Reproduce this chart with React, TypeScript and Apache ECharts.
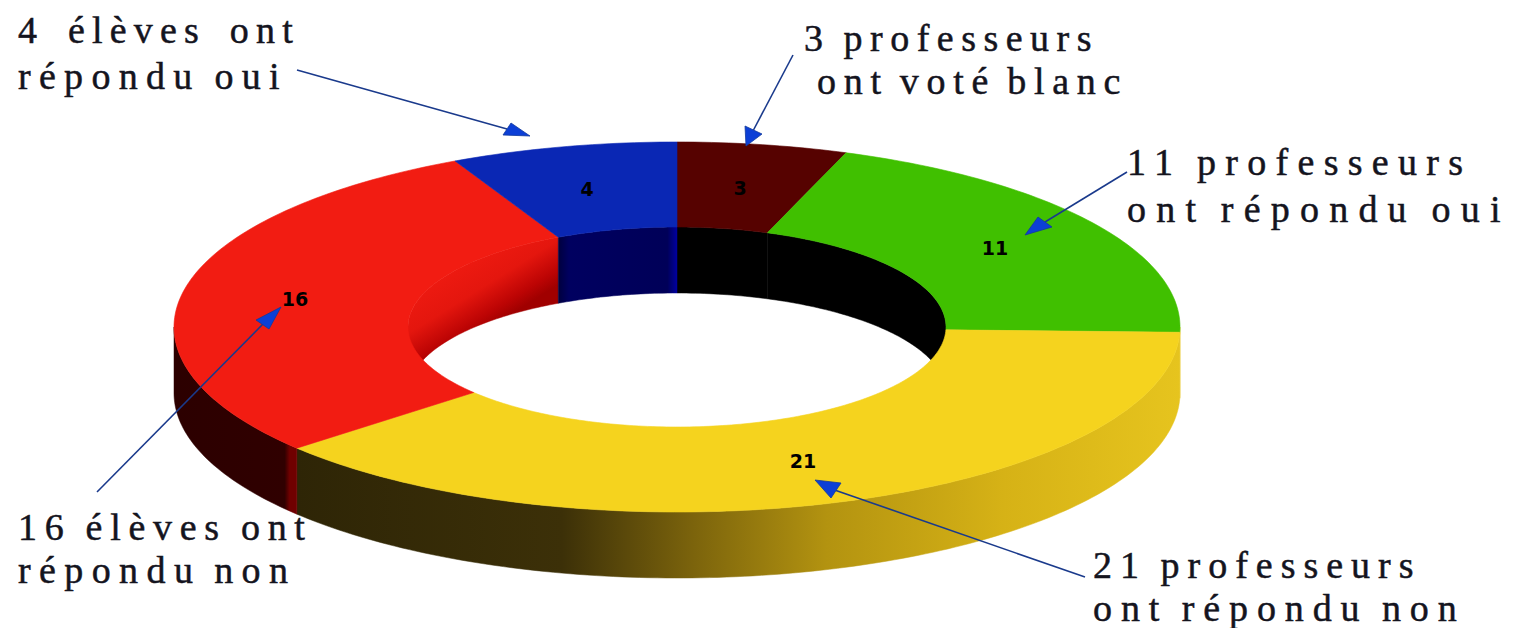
import React, { useEffect, useRef } from "react";
import * as echarts from "echarts";

// ---- data ----
const categories = ["professeurs blanc", "professeurs oui", "professeurs non", "élèves non", "élèves oui"];
const values = [3, 11, 21, 16, 4];

const noteLines = [
  "4 élèves ont", "répondu oui",
  "3 professeurs", "ont voté blanc",
  "11 professeurs", "ont répondu oui",
  "16 élèves ont", "répondu non",
  "21 professeurs", "ont répondu non",
];

// ---- styles / layout ----
const topColors = ["#560200", "#40c000", "#f5d31e", "#f21c12", "#0a27b4"];
const CX = 677, CY = 327, RX = 503, RY = 185, IRX = 269, IRY = 100, DEPTH = 66;
const labelPos: number[][] = [[740, 188], [995, 248], [803, 461], [295, 299], [587, 189]];
// x, top y, letter spacing, word spacing
const notePos: number[][] = [
  [18, 11, 7.2, 7], [18, 57, 8.3, -4],
  [804, 19, 7.5, -4], [817, 62, 7.7, -6],
  [1127, 143, 9.3, -4], [1127, 190, 10.2, -5],
  [18, 508, 7.7, -3], [18, 551, 8.4, -5],
  [1093, 546, 8, -4], [1093, 589, 8.9, -5],
];
const arrows: number[][][] = [
  [[297, 70], [530, 136], [503, 135], [511, 123]],
  [[793, 55], [746, 146], [745, 126], [762, 134]],
  [[1127, 172], [1025, 235], [1038, 217], [1052, 227]],
  [[97, 492], [281, 307], [256, 320], [269, 329]],
  [[1085, 577], [815, 480], [841, 483], [831, 498]],
];

const pt = (cx: number, cy: number, rx: number, ry: number, deg: number) => {
  const a = (deg * Math.PI) / 180;
  return [cx + rx * Math.sin(a), cy - ry * Math.cos(a)];
};
const arc = (cx: number, cy: number, rx: number, ry: number, a0: number, a1: number) => {
  const out: number[][] = [];
  const n = Math.max(2, Math.ceil(Math.abs(a1 - a0)));
  for (let i = 0; i <= n; i++) out.push(pt(cx, cy, rx, ry, a0 + ((a1 - a0) * i) / n));
  return out;
};
const total = values.reduce((s, v) => s + v, 0);
const startAngle = (i: number) => (values.slice(0, i).reduce((s, v) => s + v, 0) / total) * 360;

const grad = (x0: number, y0: number, x1: number, y1: number, stops: [number, string][]) =>
  new echarts.graphic.LinearGradient(x0, y0, x1, y1, stops.map(([offset, color]) => ({ offset, color })), true);

const sideFills: any[] = [
  null,
  "#e8c41e",
  grad(297, 0, 1180, 0, [[0, "#2e2506"], [0.3, "#3c3008"], [0.45, "#7c640c"], [0.6, "#b39310"], [0.8, "#d6b216"], [1, "#e6c41e"]]),
  grad(174, 0, 297, 0, [[0, "#2c0000"], [0.9, "#300000"], [0.94, "#700000"], [1, "#700000"]]),
  null,
];
const wallFills: any[] = [
  "#000000",
  "#000000",
  null,
  grad(449, 253, 494, 325, [[0, "#f21c12"], [0.55, "#e4160e"], [0.85, "#bc0404"], [1, "#a00000"]]),
  grad(557, 0, 677, 0, [[0, "#00003a"], [0.1, "#000060"], [0.92, "#000058"], [1, "#0000a0"]]),
];

function renderPart(part: "wall" | "side" | "top") {
  return (params: any, api: any) => {
    const i = params.dataIndex;
    const a0 = startAngle(i);
    const a1 = a0 + (api.value(0) / total) * 360;
    if (part === "top") {
      const pts = [...arc(CX, CY, RX, RY, a0, a1), ...arc(CX, CY, IRX, IRY, a1, a0)];
      const fill = topColors[i];
      return {
        type: "group",
        children: [
          { type: "polygon", shape: { points: pts }, style: { fill, stroke: fill, lineWidth: 0.6 } },
          {
            type: "text",
            x: labelPos[i][0],
            y: labelPos[i][1],
            z2: 5,
            style: {
              text: String(api.value(0)),
              font: 'bold 19px "DejaVu Sans"',
              fill: "#000",
              align: "center",
              verticalAlign: "middle",
            },
          },
        ],
      };
    }
    if (part === "side") {
      const s = Math.max(a0, 90), e = Math.min(a1, 270);
      if (e <= s || !sideFills[i]) return null;
      const pts = [...arc(CX, CY, RX, RY, s, e), ...arc(CX, CY + DEPTH, RX, RY, e, s)];
      return { type: "polygon", shape: { points: pts }, style: { fill: sideFills[i], stroke: sideFills[i], lineWidth: 0.5 } };
    }
    // inner wall: only the far half of the hole shows
    const s = a0 >= 270 ? a0 : a1 > 270 ? 270 : a0;
    const e = a0 >= 270 ? a1 : a1 > 270 ? a1 : Math.min(a1, 90);
    if (e <= s || !wallFills[i]) return null;
    const pts = [...arc(CX, CY, IRX, IRY, s, e), ...arc(CX, CY + DEPTH, IRX, IRY, e, s)];
    return { type: "polygon", shape: { points: pts }, style: { fill: wallFills[i], stroke: wallFills[i], lineWidth: 0.5 } };
  };
}

export default function App() {
  const ref = useRef<HTMLDivElement>(null);
  useEffect(() => {
    document.body.style.margin = "0";
    const chart = echarts.init(ref.current!, null, { renderer: "svg" });
    const data = values.map((v, i) => ({ name: categories[i], value: [v] }));
    const graphic: any[] = [];
    noteLines.forEach((text, i) => {
      graphic.push({
        type: "text",
        x: notePos[i][0],
        y: notePos[i][1],
        z: 20,
        style: {
          text,
          font: '38px "Liberation Serif"',
          fill: "#14141e",
          stroke: "#14141e",
          lineWidth: 0.5,
          textAlign: "left",
          textVerticalAlign: "top",
        },
      });
    });
    arrows.forEach(([from, tip, b0, b1]) => {
      const mid = [(b0[0] + b1[0]) / 2, (b0[1] + b1[1]) / 2];
      graphic.push({
        type: "line",
        z: 21,
        shape: { x1: from[0], y1: from[1], x2: mid[0], y2: mid[1] },
        style: { stroke: "#1a3a8c", lineWidth: 1.6 },
      });
      graphic.push({
        type: "polygon",
        z: 22,
        shape: { points: [tip, b0, b1] },
        style: { fill: "#0c3fd6", stroke: "#123a9c", lineWidth: 0.8 },
      });
    });
    chart.setOption({
      animation: false,
      backgroundColor: "#ffffff",
      graphic,
      series: (["wall", "side", "top"] as const).map((part, k) => ({
        type: "custom",
        coordinateSystem: "none",
        renderItem: renderPart(part),
        data,
        z: k + 1,
        silent: true,
      })),
    });
    const applySpacing = () => {
      ref.current?.querySelectorAll("text").forEach((t) => {
        const idx = noteLines.indexOf((t.textContent || "").trim());
        if (idx >= 0) {
          t.style.letterSpacing = notePos[idx][2] + "px";
          t.style.wordSpacing = notePos[idx][3] + "px";
        }
      });
    };
    chart.getZr().flush();
    applySpacing();
    chart.on("finished", applySpacing);
    return () => chart.dispose();
  }, []);
  return <div ref={ref} style={{ width: 1527, height: 628 }} />;
}
